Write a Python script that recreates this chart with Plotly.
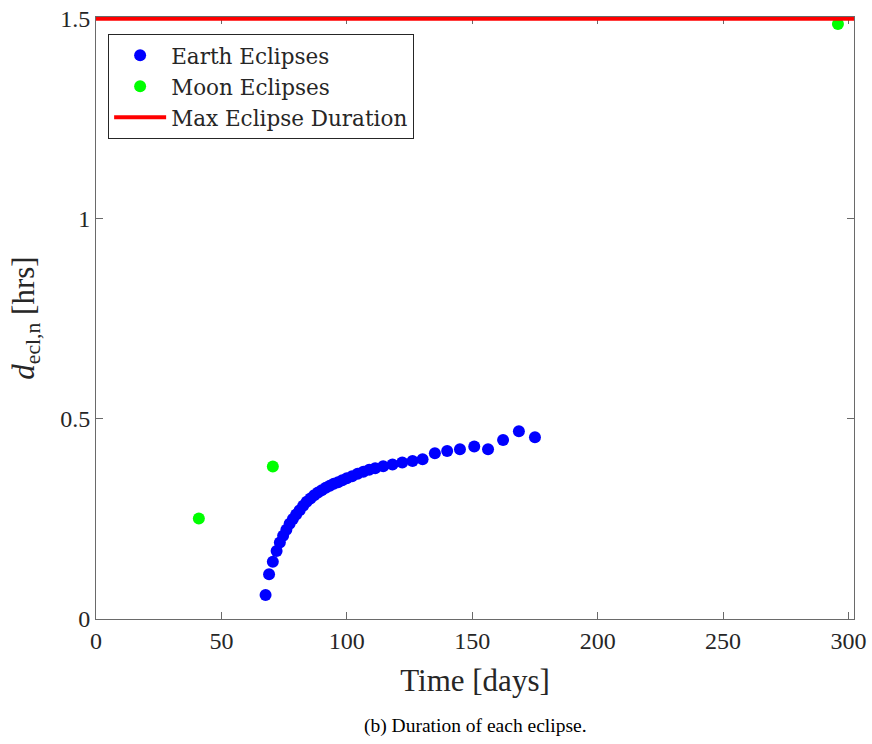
import plotly.graph_objects as go

# Earth eclipse times [days] and durations [hrs]
earth_days = [67.6, 69.0, 70.5, 72.0, 73.3, 74.6, 75.9, 77.2, 78.5, 79.8,
              81.2, 82.6, 84.0, 85.5, 87.0, 88.5, 90.0, 91.6, 93.2, 94.8,
              96.5, 98.2, 100.0, 102.1, 104.3, 106.6, 108.9, 111.3, 114.5, 118.2,
              122.1, 126.2, 130.2, 135.1, 140.0, 145.1, 150.8, 156.3, 162.3, 168.6,
              175.0]
earth_dur = [0.060, 0.112, 0.143, 0.170, 0.191, 0.208, 0.223, 0.238, 0.250, 0.261,
             0.272, 0.283, 0.293, 0.301, 0.309, 0.316, 0.322, 0.328, 0.333, 0.338,
             0.342, 0.347, 0.352, 0.357, 0.363, 0.368, 0.373, 0.377, 0.382, 0.386,
             0.391, 0.395, 0.399, 0.414, 0.420, 0.424, 0.431, 0.424, 0.4475, 0.469,
             0.454]

# Moon eclipse times [days] and durations [hrs]
moon_days = [41.0, 70.5, 295.8]
moon_dur = [0.251, 0.381, 1.487]

# Maximum allowed eclipse duration [hrs]
max_duration = 1.5

x_range = [0, 302.2]
# small headroom so the full width of the limit line stays visible
y_range = [0, 1.5045]
x_ticks = [0, 50, 100, 150, 200, 250, 300]
y_ticks = [0, 0.5, 1, 1.5]
y_tick_text = ["0", "0.5", "1", "1.5"]

SERIF = "Liberation Serif, Times New Roman, serif"
LEGEND_FONT = "DejaVu Serif, Liberation Serif, serif"
AX_COLOR = "#6a6a6a"
TXT_COLOR = "#262626"

fig = go.Figure()
fig.add_trace(go.Scatter(
    x=earth_days, y=earth_dur, mode="markers", name="Earth Eclipses",
    marker=dict(color="#0000ff", size=12, line=dict(width=0)),
))
fig.add_trace(go.Scatter(
    x=moon_days, y=moon_dur, mode="markers", name="Moon Eclipses",
    marker=dict(color="#00ff00", size=12, line=dict(width=0)),
))
fig.add_trace(go.Scatter(
    x=x_range, y=[max_duration, max_duration], mode="lines",
    name="Max Eclipse Duration",
    line=dict(color="#ff0000", width=4),
))

axis_common = dict(
    showgrid=False, zeroline=False, showline=True, linecolor=AX_COLOR,
    linewidth=1, mirror="ticks", ticks="inside", ticklen=7, tickwidth=1,
    tickcolor=AX_COLOR, layer="below traces", automargin=False,
    tickfont=dict(family=SERIF, size=24, color=TXT_COLOR),
)

fig.update_layout(
    width=872, height=744,
    margin=dict(l=96, r=18, t=17, b=125),
    paper_bgcolor="white", plot_bgcolor="white",
    font=dict(family=SERIF, color=TXT_COLOR),
    showlegend=True,
    legend=dict(
        x=0.016, y=0.972, xanchor="left", yanchor="top",
        bgcolor="white", bordercolor=TXT_COLOR, borderwidth=1,
        font=dict(family=LEGEND_FONT, size=21.5, color=TXT_COLOR),
        itemwidth=52, tracegroupgap=0,
    ),
    xaxis=dict(
        range=x_range, tickvals=x_ticks,
        title=dict(text="Time [days]", font=dict(family=SERIF, size=31, color=TXT_COLOR),
                   standoff=16),
        **axis_common,
    ),
    yaxis=dict(
        range=y_range, tickvals=y_ticks, ticktext=y_tick_text,
        title=dict(text="<i>d</i><sub>ecl,n</sub> [hrs]",
                   font=dict(family=SERIF, size=31, color=TXT_COLOR), standoff=16),
        **axis_common,
    ),
    annotations=[dict(
        text="(b) Duration of each eclipse.", xref="paper", yref="paper",
        x=0.5, y=-0.178, xanchor="center", yanchor="middle", showarrow=False,
        font=dict(family=SERIF, size=19.5, color="black"),
    )],
)

fig.write_html("out.html")
